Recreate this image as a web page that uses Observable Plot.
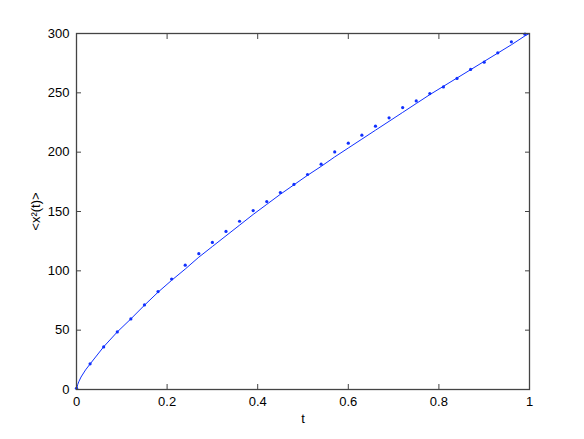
<!DOCTYPE html>
<html><head><meta charset="utf-8">
<script src="https://cdn.jsdelivr.net/npm/d3@7"></script>
<script src="https://cdn.jsdelivr.net/npm/@observablehq/plot@0.6"></script>
<style>body{margin:0;background:#fff}#chart svg{display:block}</style>
</head><body><div id="chart"></div>
<script>
// Sampled mean square displacement (dots)
const tSample = [0,0.03,0.06,0.09,0.12,0.15,0.18,0.21,0.24,0.27,0.30,0.33,0.36,0.39,0.42,0.45,0.48,0.51,0.54,0.57,0.60,0.63,0.66,0.69,0.72,0.75,0.78,0.81,0.84,0.87,0.90,0.93,0.96,0.99];
const msdSample = [1,21.6,35.9,48.5,59.5,71.3,82.5,93.1,104.8,114.5,123.9,133.2,141.8,150.8,158.4,166.0,172.8,181.2,189.9,200.2,207.6,214.3,221.9,228.9,237.6,243.2,249.4,255.0,262.1,269.7,275.8,283.7,293.0,299.4];
// Theoretical curve (line)
const tCurve = [0,0.0025,0.005,0.01,0.02,0.03,0.06,0.09,0.12,0.15,0.18,0.21,0.24,0.27,0.30,0.33,0.36,0.39,0.42,0.45,0.48,0.51,0.54,0.57,0.60,0.63,0.66,0.69,0.72,0.75,0.78,0.81,0.84,0.87,0.90,0.93,0.96,0.99,1.0];
const msdCurve = [0,4,6.5,10.5,16.5,21.5,36,48.5,59.5,71,82,92,101.5,111.5,120.5,129.5,138.5,147.5,156,164.5,172.5,180.5,188,196,203.5,211,218.5,226,233.5,241,248.5,255.5,262.5,269.5,276.5,283.5,290.5,298,300];
const xTicks = [0,0.2,0.4,0.6,0.8,1];
const xTickLabels = ["0","0.2","0.4","0.6","0.8","1"];
const yTicks = [0,50,100,150,200,250,300];
const xLabel = "t";
const yLabel = "<x\u00B2(t)>";

const dots = tSample.map((t,i)=>({t, v: msdSample[i]}));
const curve = tCurve.map((t,i)=>({t, v: msdCurve[i]}));
const blue = "#1030ff";
const axisColor = "#444";

const chart = Plot.plot({
  width: 584, height: 439,
  marginLeft: 76, marginRight: 55, marginTop: 33, marginBottom: 50,
  style: {fontFamily: "'Liberation Sans', Arial, sans-serif", fontSize: "13px", color: "#000", background: "#fff"},
  x: {domain: [0,1]},
  y: {domain: [0,300]},
  marks: [
    Plot.line(curve, {x: "t", y: "v", stroke: blue, strokeWidth: 1}),
    Plot.dot(dots, {x: "t", y: "v", r: 1.6, fill: blue, stroke: "none"}),
    Plot.frame({stroke: axisColor, strokeWidth: 1.3}),
    // inward ticks on all four sides
    Plot.axisX(xTicks, {anchor: "bottom", tickSize: -5, tickFormat: () => "", label: null, stroke: axisColor}),
    Plot.axisX(xTicks, {anchor: "top", tickSize: -5, tickFormat: () => "", label: null, stroke: axisColor}),
    Plot.axisY(yTicks, {anchor: "left", tickSize: -5, tickFormat: () => "", label: null, stroke: axisColor}),
    Plot.axisY(yTicks, {anchor: "right", tickSize: -5, tickFormat: () => "", label: null, stroke: axisColor}),
    // tick labels and axis titles
    Plot.axisX(xTicks, {anchor: "bottom", tickSize: 0, tickPadding: 7, tickFormat: (d,i) => xTickLabels[i], label: xLabel, labelAnchor: "center", labelArrow: "none", labelOffset: 33}),
    Plot.axisY(yTicks, {anchor: "left", tickSize: 0, tickPadding: 7, label: yLabel, labelAnchor: "center", labelArrow: "none", labelOffset: 46})
  ]
});
document.getElementById("chart").appendChild(chart);
</script>
</body></html>
